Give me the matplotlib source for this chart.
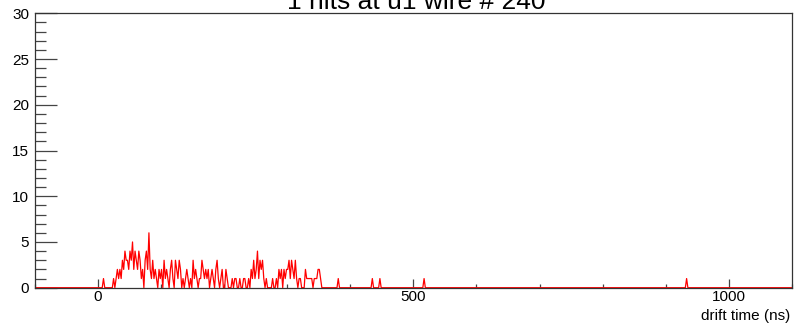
import numpy as np
import matplotlib
matplotlib.use("Agg")
import matplotlib.pyplot as plt
from matplotlib.ticker import MultipleLocator, FixedLocator

plt.rcParams['font.family'] = ['Liberation Sans', 'DejaVu Sans']

# ---- data ----
title = "1 hits at u1 wire # 240"
xlabel = "drift time (ns)"
hist_min, hist_max, bin_width = -100, 1100, 2.0

# counts in 2 ns bins starting at t = 0 ns (dense region 0-360 ns)
dense_start = 0.0
dense_counts = [
    0, 0, 0, 0, 1, 0, 0, 0, 0, 0, 0, 0,
    1, 0, 1, 2, 1, 2, 1, 3,
    2, 4, 3, 3, 2, 4, 3, 5, 2, 4,
    3, 2, 4, 3, 1, 2, 0, 3, 4, 2,
    6, 2, 1, 3, 1, 2, 1, 0, 2, 1,
    2, 0, 3, 1, 2, 1, 0, 2, 3, 1,
    0, 3, 2, 1, 3, 2, 0, 1, 0, 1,
    2, 1, 0, 1, 0, 3, 1, 2, 1, 0,
    1, 1, 3, 2, 1, 2, 1, 2, 0, 1,
    2, 1, 0, 2, 3, 1, 0, 1, 2, 0,
    0, 2, 1, 0, 0, 0, 1, 0, 1, 1,
    0, 0, 1, 0, 0, 1, 1, 0, 0, 1,
    0, 2, 1, 3, 1, 2, 4, 1, 3, 2,
    3, 1, 0, 1, 0, 0, 0, 0, 1, 0,
    0, 1, 0, 2, 1, 2, 0, 2, 1, 2,
    2, 3, 1, 3, 2, 1, 3, 1, 0, 1,
    1, 0, 0, 0, 2, 1, 1, 1, 1, 1,
    0, 1, 1, 1, 2, 2, 1, 0, 0, 0,
]
# isolated single hits (ns)
isolated_times = [381, 435, 447, 517, 933]
isolated_counts = [1, 1, 1, 1, 1]

# ---- build histogram ----
edges = np.arange(hist_min, hist_max + bin_width / 2, bin_width)
centers = 0.5 * (edges[:-1] + edges[1:])
counts = np.zeros(len(centers))
i0 = int(round((dense_start - hist_min) / bin_width))
counts[i0:i0 + len(dense_counts)] = dense_counts
for t, c in zip(isolated_times, isolated_counts):
    counts[int((t - hist_min) // bin_width)] += c

# ---- figure ----
W, H = 794, 325
fig = plt.figure(figsize=(W / 100, H / 100), dpi=100)
left, right, top, bottom = 34.7, 792, 13.3, 287.7
ax = fig.add_axes([left / W, 1 - bottom / H, (right - left) / W, (bottom - top) / H])

ax.plot(centers, counts, color='#ff0000', lw=0.9)

ax.set_xlim(hist_min, hist_max)
ax.set_ylim(0, 30)

ax.xaxis.set_major_locator(FixedLocator([0, 500, 1000]))
ax.xaxis.set_minor_locator(MultipleLocator(100))
ax.yaxis.set_major_locator(MultipleLocator(5))
ax.yaxis.set_minor_locator(MultipleLocator(1))

ax.tick_params(axis='both', which='both', direction='in', colors='#444444',
               labelcolor='black', labelsize=11, width=0.9)
ax.tick_params(axis='y', which='major', length=15.8, pad=4)
ax.tick_params(axis='y', which='minor', length=7.9)
ax.tick_params(axis='x', which='major', length=6.3, pad=1.5)
ax.tick_params(axis='x', which='minor', length=3)
ax.tick_params(top=False, right=False, which='both')

for s in ax.spines.values():
    s.set_color('#333333')
    s.set_linewidth(0.9)

fig.text(790 / W, 1 - 320 / H, xlabel, ha='right', va='baseline', fontsize=11)
fig.text(416 / W, 1 - 8.6 / H, title, ha='center', va='baseline', fontsize=19)

fig.savefig('out.png', dpi=100)
